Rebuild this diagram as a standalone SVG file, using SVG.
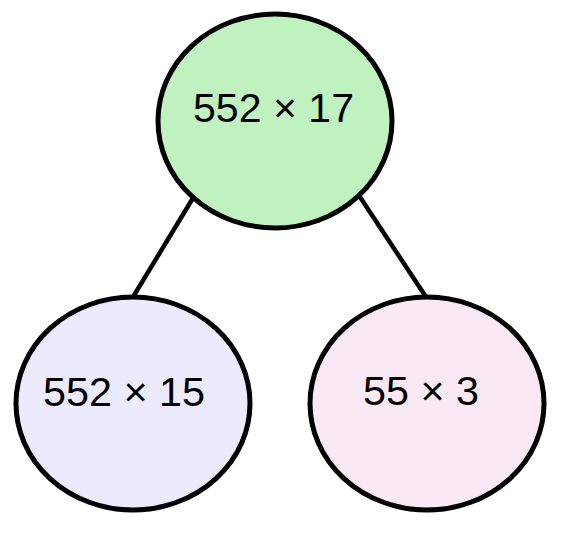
<svg xmlns="http://www.w3.org/2000/svg" width="568" height="545" viewBox="0 0 568 545">
<style>
.node ellipse{stroke:#000;stroke-width:5}
.node text{font-family:"Liberation Sans",Arial,sans-serif;font-size:40px;fill:#000}
.edge{stroke:#000;stroke-width:4.5;fill:none}
</style>
<rect width="568" height="545" fill="#fff"/>
<g id="connectors">
<line class="edge" x1="193" y1="198" x2="133" y2="297"/>
<line class="edge" x1="360" y1="197" x2="426" y2="297"/>
</g>
<g id="node-root" class="node">
<ellipse cx="275" cy="121" rx="117" ry="107" fill="#c0f2c0"/>
<text x="193" y="122" textLength="161" lengthAdjust="spacingAndGlyphs">552 × 17</text>
</g>
<g id="node-left" class="node">
<ellipse cx="133" cy="403.5" rx="117" ry="106.5" fill="#ebebfd"/>
<text x="43" y="406" textLength="162" lengthAdjust="spacingAndGlyphs">552 × 15</text>
</g>
<g id="node-right" class="node">
<ellipse cx="427" cy="403.5" rx="117" ry="106.5" fill="#f9e9f4"/>
<text x="363" y="405" textLength="116" lengthAdjust="spacingAndGlyphs">55 × 3</text>
</g>
</svg>
